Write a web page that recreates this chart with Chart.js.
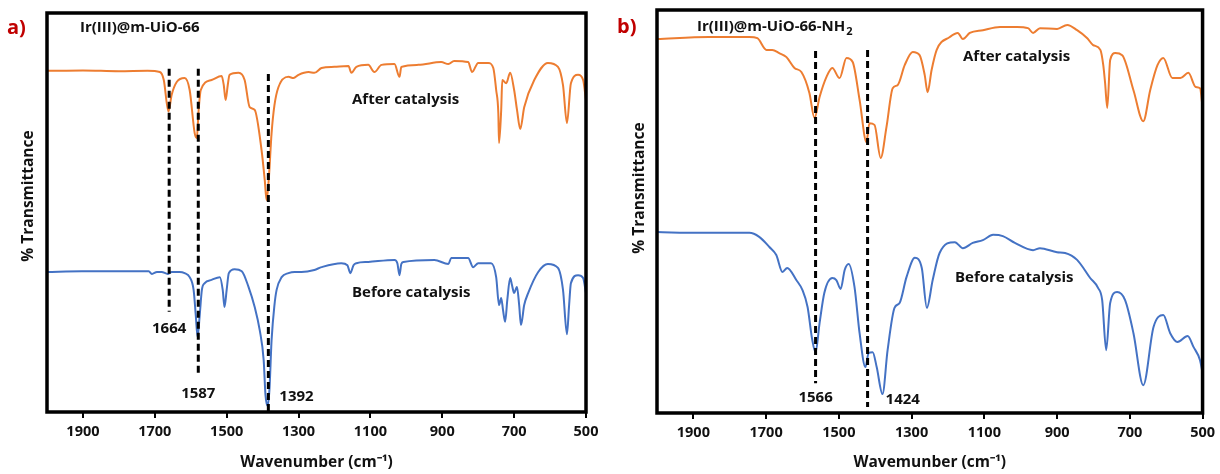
<!DOCTYPE html>
<html>
<head>
<meta charset="utf-8">
<script src="https://cdn.jsdelivr.net/npm/chart.js@4.4.0/dist/chart.umd.min.js"></script>
<style>
  html, body { margin: 0; padding: 0; background: #fff; }
  #wrap { position: relative; width: 1220px; height: 474px; }
  .panel { position: absolute; top: 0; width: 610px; height: 474px; }
</style>
</head>
<body>
<div id="wrap">
  <div class="panel" style="left:0"><canvas id="chartA"></canvas></div>
  <div class="panel" style="left:610px"><canvas id="chartB"></canvas></div>
</div>
<script>
// x axis ticks (cm-1), shared by both panels
var xTicks = [1900, 1700, 1500, 1300, 1100, 900, 700, 500];

// a) Ir(III)@m-UiO-66, after catalysis
var afterWnA = [2000, 1900, 1800, 1720, 1686, 1675, 1662, 1653, 1639, 1617, 1603, 1589, 1583, 1578, 1572, 1542, 1514, 1508, 1503, 1497, 1492, 1467, 1450, 1436, 1422, 1403, 1394, 1389, 1383, 1375, 1367, 1356, 1328, 1314, 1300, 1272, 1256, 1236, 1200, 1161, 1153, 1139, 1106, 1089, 1069, 1033, 1019, 1014, 967, 903, 883, 867, 828, 817, 800, 772, 758, 750, 744, 742, 736, 733, 722, 711, 700, 692, 683, 672, 644, 606, 578, 564, 553, 542, 522, 508, 500];
var afterTA = [85.5, 85.6, 85.4, 85.5, 85.2, 83.2, 75.3, 79.5, 82.7, 83.7, 80.7, 69.9, 68.7, 75.7, 80.7, 83.2, 84.2, 81.9, 78.2, 81.9, 84.5, 85.0, 83.2, 76.4, 75.7, 65.7, 58.1, 53.1, 58.1, 69.9, 76.9, 81.4, 84.0, 83.7, 84.5, 85.2, 85.0, 86.2, 86.5, 86.7, 85.0, 86.5, 87.0, 85.2, 87.0, 87.2, 84.0, 86.5, 87.0, 87.7, 87.2, 88.0, 87.7, 85.2, 87.5, 87.5, 86.2, 80.7, 74.9, 67.4, 75.7, 83.2, 82.4, 85.0, 80.7, 75.7, 70.9, 76.4, 83.2, 87.5, 86.5, 81.9, 72.4, 82.4, 84.5, 83.2, 78.2];

// a) before catalysis
var beforeWnA = [2000, 1903, 1792, 1717, 1708, 1694, 1681, 1664, 1653, 1631, 1617, 1603, 1592, 1586, 1581, 1575, 1569, 1561, 1542, 1519, 1511, 1506, 1500, 1494, 1478, 1458, 1439, 1422, 1408, 1397, 1392, 1386, 1381, 1375, 1367, 1361, 1347, 1328, 1311, 1292, 1256, 1236, 1181, 1164, 1156, 1147, 1139, 1106, 1033, 1025, 1019, 1014, 1008, 922, 883, 875, 828, 814, 800, 764, 750, 742, 736, 731, 725, 719, 711, 706, 700, 694, 692, 686, 681, 672, 661, 633, 606, 578, 564, 553, 547, 542, 522, 508, 500];
var beforeTA = [35.1, 35.3, 35.3, 35.3, 34.6, 35.1, 35.1, 34.6, 35.1, 35.1, 34.8, 33.8, 30.6, 24.3, 18.8, 24.3, 30.6, 32.3, 33.1, 33.8, 30.6, 26.3, 30.6, 34.8, 35.8, 35.3, 31.3, 26.3, 20.5, 13.0, 4.3, 1.5, 5.5, 18.0, 26.8, 30.6, 33.8, 34.8, 35.1, 35.1, 35.6, 36.3, 37.3, 36.8, 34.8, 36.8, 37.3, 37.6, 38.1, 37.3, 34.3, 37.1, 37.6, 38.1, 37.1, 38.6, 38.6, 36.3, 37.3, 37.3, 33.8, 26.8, 28.6, 25.6, 22.6, 28.1, 33.6, 31.8, 29.8, 31.1, 31.3, 26.8, 21.8, 26.8, 29.8, 35.1, 37.1, 36.1, 30.6, 19.5, 26.8, 32.3, 34.3, 33.6, 29.8];

// b) Ir(III)@m-UiO-66-NH2, after catalysis
var afterWnB = [2000, 1857, 1746, 1724, 1699, 1683, 1664, 1644, 1622, 1603, 1581, 1567, 1553, 1534, 1518, 1498, 1479, 1462, 1443, 1424, 1416, 1402, 1385, 1369, 1352, 1338, 1319, 1297, 1278, 1264, 1256, 1245, 1231, 1195, 1173, 1159, 1140, 1104, 1057, 1010, 980, 966, 947, 900, 872, 845, 817, 801, 781, 773, 768, 762, 754, 740, 721, 690, 663, 644, 624, 608, 583, 561, 539, 519, 507, 500];
var afterTB = [92.8, 93.3, 93.3, 93.0, 90.1, 90.1, 89.3, 88.3, 85.6, 84.6, 79.4, 73.2, 78.4, 83.4, 85.6, 83.1, 88.1, 87.1, 77.7, 67.2, 71.9, 71.5, 63.3, 71.0, 80.6, 81.4, 86.3, 89.6, 88.8, 83.9, 79.6, 85.1, 90.1, 93.3, 94.3, 92.8, 94.3, 95.0, 95.8, 95.8, 95.5, 94.3, 95.5, 95.3, 96.3, 95.0, 93.0, 91.3, 90.1, 86.3, 81.9, 75.7, 87.6, 89.3, 88.8, 80.1, 72.4, 80.1, 86.3, 88.1, 83.1, 83.1, 84.4, 80.9, 80.6, 75.9];

// b) before catalysis
var beforeWnB = [2000, 1884, 1746, 1719, 1691, 1672, 1655, 1642, 1617, 1600, 1586, 1573, 1564, 1553, 1540, 1518, 1507, 1495, 1484, 1473, 1457, 1443, 1427, 1418, 1407, 1396, 1380, 1366, 1347, 1333, 1314, 1291, 1272, 1258, 1242, 1223, 1181, 1159, 1132, 1104, 1076, 1049, 1016, 966, 947, 900, 878, 845, 809, 787, 776, 765, 754, 735, 713, 690, 663, 635, 608, 589, 569, 541, 525, 507, 500];
var beforeTB = [44.9, 44.7, 44.7, 43.7, 41.2, 39.2, 35.0, 36.0, 33.0, 30.5, 26.3, 18.1, 15.1, 22.3, 29.8, 33.5, 33.0, 30.8, 35.5, 37.0, 31.3, 19.8, 11.4, 14.9, 15.1, 11.4, 4.7, 15.6, 26.1, 27.3, 33.7, 38.5, 36.0, 26.1, 33.0, 39.7, 42.4, 40.9, 42.2, 42.9, 44.2, 43.9, 42.2, 40.4, 40.9, 39.9, 39.7, 38.0, 33.5, 31.0, 28.0, 15.6, 27.3, 30.0, 28.0, 19.8, 6.9, 21.3, 24.3, 19.8, 17.6, 19.1, 16.4, 13.1, 9.9];

var ORANGE = '#ED7D31';
var BLUE = '#4472C4';
var FONT = '"Open Sans", "Liberation Sans", sans-serif';

function pts(wn, t) {
    var out = [];
    for (var i = 0; i < wn.length; i++) out.push({ x: wn[i], y: t[i] });
    return out;
}

function boldFont(size) {
    return 'bold ' + size + 'px ' + FONT;
}

// draws frame, dashed marker lines and all the free text of a panel
var notesPlugin = {
    id: 'notes',
    afterDraw: function(chart, args, opts) {
        var ctx = chart.ctx;
        var area = chart.chartArea;
        var xs = chart.scales.x, ys = chart.scales.y;
        ctx.save();

        // frame
        ctx.strokeStyle = '#000';
        ctx.lineWidth = 3.5;
        ctx.strokeRect(area.left, area.top, area.right - area.left, area.bottom - area.top);

        // dashed marker lines + their labels
        ctx.textBaseline = 'middle';
        opts.marks.forEach(function(m) {
            var x = xs.getPixelForValue(m.wn);
            ctx.setLineDash([7, 4]);
            ctx.lineWidth = 3;
            ctx.strokeStyle = '#000';
            ctx.beginPath();
            ctx.moveTo(x, ys.getPixelForValue(m.from));
            ctx.lineTo(x, ys.getPixelForValue(m.to));
            ctx.stroke();
            ctx.setLineDash([]);
            ctx.fillStyle = '#111';
            ctx.font = boldFont(15);
            ctx.textAlign = m.align;
            ctx.fillText(m.label, x + m.dx, m.ty);
        });

        // panel letter
        ctx.textAlign = 'left';
        ctx.fillStyle = '#C00000';
        ctx.font = boldFont(20);
        ctx.fillText(opts.letter, 7, opts.letterY);

        // sample name (optional subscript)
        ctx.fillStyle = '#111';
        ctx.font = boldFont(15);
        ctx.fillText(opts.title, opts.titleX, opts.titleY);
        if (opts.titleSub) {
            var w = ctx.measureText(opts.title).width;
            ctx.font = boldFont(11);
            ctx.fillText(opts.titleSub, opts.titleX + w + 1, opts.titleY + 5);
        }

        // curve labels
        ctx.font = boldFont(15);
        opts.texts.forEach(function(t) {
            ctx.fillText(t.text, t.x, t.y);
        });

        // y title
        ctx.translate(opts.yTitleX, opts.yTitleY);
        ctx.rotate(-Math.PI / 2);
        ctx.textAlign = 'center';
        ctx.font = boldFont(15.5);
        ctx.fillText('% Transmittance', 0, 0);
        ctx.restore();
    }
};

function makePanel(id, cfg) {
    return new Chart(document.getElementById(id), {
        type: 'line',
        data: {
            datasets: [
                { data: pts(cfg.afterWn, cfg.afterT), borderColor: ORANGE, borderWidth: 2, pointRadius: 0, cubicInterpolationMode: 'monotone', fill: false },
                { data: pts(cfg.beforeWn, cfg.beforeT), borderColor: BLUE, borderWidth: 2, pointRadius: 0, cubicInterpolationMode: 'monotone', fill: false }
            ]
        },
        options: {
            responsive: true,
            maintainAspectRatio: false,
            animation: false,
            devicePixelRatio: 1,
            layout: { padding: { top: cfg.top, right: cfg.right, left: 0, bottom: 0 } },
            plugins: {
                legend: { display: false },
                tooltip: { enabled: false },
                notes: cfg.notes
            },
            scales: {
                x: {
                    type: 'linear',
                    reverse: true,
                    min: 500,
                    max: 2000,
                    afterBuildTicks: function(s) { s.ticks = xTicks.map(function(v) { return { value: v }; }); },
                    afterFit: function(s) { s.height = cfg.xAxisH; },
                    grid: { display: true, drawOnChartArea: false, drawTicks: true, tickLength: 6, color: '#000', lineWidth: 2 },
                    border: { display: false },
                    ticks: {
                        color: '#111',
                        font: { family: FONT, weight: 'bold', size: 14.5 },
                        padding: 5, maxRotation: 0, autoSkip: false,
                        callback: function(v) { return String(v); }
                    },
                    title: { display: true, text: cfg.xTitle, color: '#111', font: { family: FONT, weight: 'bold', size: 15.5 }, padding: { top: 2, bottom: 2 } }
                },
                y: {
                    min: 0,
                    max: 100,
                    afterFit: function(s) { s.width = cfg.yAxisW; },
                    grid: { display: false },
                    border: { display: false },
                    ticks: { display: false }
                }
            }
        },
        plugins: [notesPlugin]
    });
}

makePanel('chartA', {
    afterWn: afterWnA, afterT: afterTA, beforeWn: beforeWnA, beforeT: beforeTA,
    top: 13, right: 24, yAxisW: 47, xAxisH: 62,
    xTitle: 'Wavenumber (cm\u207B\u00B9)',
    notes: {
        letter: 'a)', letterY: 28,
        title: 'Ir(III)@m-UiO-66', titleX: 80, titleY: 28,
        texts: [
            { text: 'After catalysis', x: 352, y: 100 },
            { text: 'Before catalysis', x: 352, y: 293 }
        ],
        yTitleX: 29, yTitleY: 196,
        marks: [
            { wn: 1660, from: 86.0, to: 25.1, label: '1664', dx: 0, align: 'center', ty: 329 },
            { wn: 1579, from: 86.0, to: 9.3, label: '1587', dx: 0, align: 'center', ty: 394 },
            { wn: 1384, from: 84.7, to: 0, label: '1392', dx: 11, align: 'left', ty: 397 }
        ]
    }
});

makePanel('chartB', {
    afterWn: afterWnB, afterT: afterTB, beforeWn: beforeWnB, beforeT: beforeTB,
    top: 10, right: 17, yAxisW: 47, xAxisH: 61,
    xTitle: 'Wavemunber (cm\u207B\u00B9)',
    notes: {
        letter: 'b)', letterY: 27,
        title: 'Ir(III)@m-UiO-66-NH', titleSub: '2', titleX: 87, titleY: 27,
        texts: [
            { text: 'After catalysis', x: 353, y: 57 },
            { text: 'Before catalysis', x: 345, y: 278 }
        ],
        yTitleX: 30, yTitleY: 188,
        marks: [
            { wn: 1564, from: 89.8, to: 7.4, label: '1566', dx: 0, align: 'center', ty: 398 },
            { wn: 1421, from: 90.1, to: 1.5, label: '1424', dx: 18, align: 'left', ty: 400 }
        ]
    }
});
</script>
</body>
</html>
